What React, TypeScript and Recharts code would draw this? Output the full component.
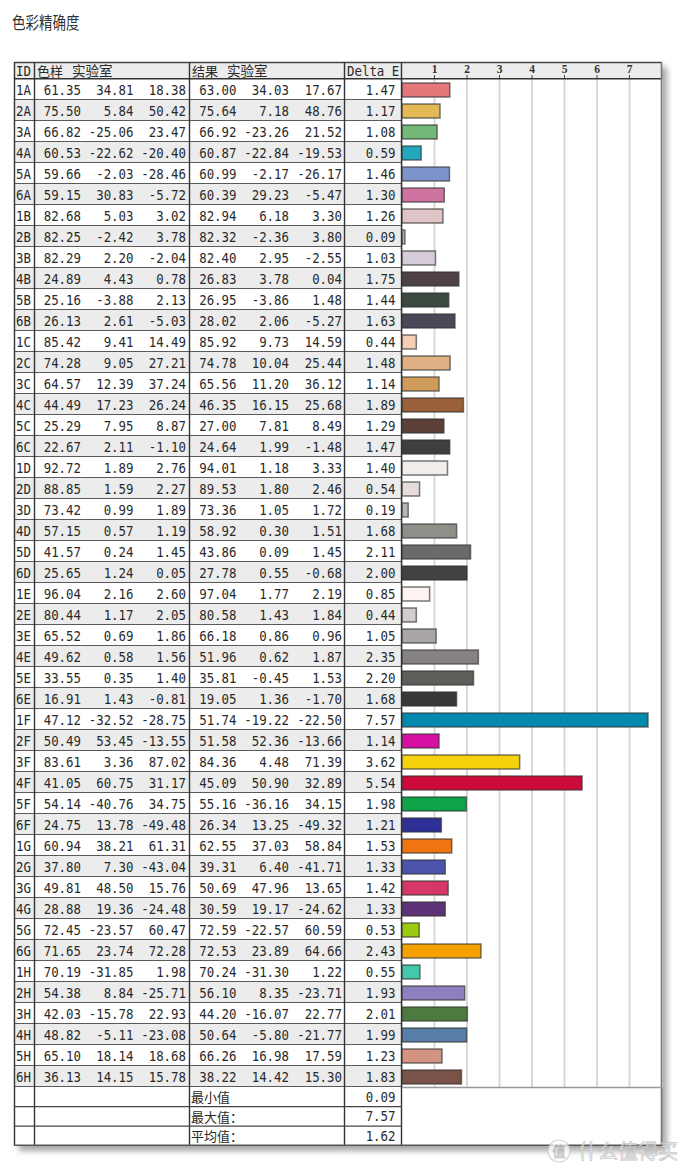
import React from 'react';
import { BarChart, Bar, XAxis, YAxis, CartesianGrid, Cell } from 'recharts';

const ids = ['1A','2A','3A','4A','5A','6A','1B','2B','3B','4B','5B','6B','1C','2C','3C','4C','5C','6C','1D','2D','3D','4D','5D','6D','1E','2E','3E','4E','5E','6E','1F','2F','3F','4F','5F','6F','1G','2G','3G','4G','5G','6G','1H','2H','3H','4H','5H','6H'];

const refL = [61.35,75.50,66.82,60.53,59.66,59.15,82.68,82.25,82.29,24.89,25.16,26.13,85.42,74.28,64.57,44.49,25.29,22.67,92.72,88.85,73.42,57.15,41.57,25.65,96.04,80.44,65.52,49.62,33.55,16.91,47.12,50.49,83.61,41.05,54.14,24.75,60.94,37.80,49.81,28.88,72.45,71.65,70.19,54.38,42.03,48.82,65.10,36.13];
const refA = [34.81,5.84,-25.06,-22.62,-2.03,30.83,5.03,-2.42,2.20,4.43,-3.88,2.61,9.41,9.05,12.39,17.23,7.95,2.11,1.89,1.59,0.99,0.57,0.24,1.24,2.16,1.17,0.69,0.58,0.35,1.43,-32.52,53.45,3.36,60.75,-40.76,13.78,38.21,7.30,48.50,19.36,-23.57,23.74,-31.85,8.84,-15.78,-5.11,18.14,14.15];
const refB = [18.38,50.42,23.47,-20.40,-28.46,-5.72,3.02,3.78,-2.04,0.78,2.13,-5.03,14.49,27.21,37.24,26.24,8.87,-1.10,2.76,2.27,1.89,1.19,1.45,0.05,2.60,2.05,1.86,1.56,1.40,-0.81,-28.75,-13.55,87.02,31.17,34.75,-49.48,61.31,-43.04,15.76,-24.48,60.47,72.28,1.98,-25.71,22.93,-23.08,18.68,15.78];
const resL = [63.00,75.64,66.92,60.87,60.99,60.39,82.94,82.32,82.40,26.83,26.95,28.02,85.92,74.78,65.56,46.35,27.00,24.64,94.01,89.53,73.36,58.92,43.86,27.78,97.04,80.58,66.18,51.96,35.81,19.05,51.74,51.58,84.36,45.09,55.16,26.34,62.55,39.31,50.69,30.59,72.59,72.53,70.24,56.10,44.20,50.64,66.26,38.22];
const resA = [34.03,7.18,-23.26,-22.84,-2.17,29.23,6.18,-2.36,2.95,3.78,-3.86,2.06,9.73,10.04,11.20,16.15,7.81,1.99,1.18,1.80,1.05,0.30,0.09,0.55,1.77,1.43,0.86,0.62,-0.45,1.36,-19.22,52.36,4.48,50.90,-36.16,13.25,37.03,6.40,47.96,19.17,-22.57,23.89,-31.30,8.35,-16.07,-5.80,16.98,14.42];
const resB = [17.67,48.76,21.52,-19.53,-26.17,-5.47,3.30,3.80,-2.55,0.04,1.48,-5.27,14.59,25.44,36.12,25.68,8.49,-1.48,3.33,2.46,1.72,1.51,1.45,-0.68,2.19,1.84,0.96,1.87,1.53,-1.70,-22.50,-13.66,71.39,32.89,34.15,-49.32,58.84,-41.71,13.65,-24.62,60.59,64.66,1.22,-23.71,22.77,-21.77,17.59,15.30];
const deltaE = [1.47,1.17,1.08,0.59,1.46,1.30,1.26,0.09,1.03,1.75,1.44,1.63,0.44,1.48,1.14,1.89,1.29,1.47,1.40,0.54,0.19,1.68,2.11,2.00,0.85,0.44,1.05,2.35,2.20,1.68,7.57,1.14,3.62,5.54,1.98,1.21,1.53,1.33,1.42,1.33,0.53,2.43,0.55,1.93,2.01,1.99,1.23,1.83];

const xTicks = [1, 2, 3, 4, 5, 6, 7];
const summaryLabels = ['最小值', '最大值：', '平均值：'];
const summaryValues = [0.09, 7.57, 1.62];

const swatches = ['#e4777a','#e3b955','#74b877','#22a7be','#7c93cb','#cf73a0','#dfc5c5','#b0b0a8','#d6cbd8','#4d4147','#3b4940','#4a4859','#f6cdb5','#dfb184','#cf9c59','#99603a','#5b4037','#3f3d40','#f1ede8','#e6dcdc','#b6b6b2','#8f8f8a','#6a6a68','#424242','#fdf3f1','#d3cccc','#aaa6a6','#858281','#5f5e5a','#38373a','#0289ad','#d80fa3','#f5d20b','#cc0b3b','#0ea548','#2f2f98','#ee7511','#4b54ac','#d53868','#5e3276','#9bcb10','#f5a100','#42c9ac','#8e7fbf','#4d7a3e','#577ea8','#d39484','#7a5247'];

const data = ids.map((id, i) => ({ id, de: deltaE[i] }));

const W = 680;
const H = 1168;
const TL = 14;
const TR = 662;
const HT = 62;
const HB = 79;
const ROW_H = 21;
const DATA_B = HB + ROW_H * ids.length;
const FOOT_H = 19.6;
const TB = DATA_B + FOOT_H * 3;
const COL_X = [34, 189, 344, 402];
const COL_RIGHT = [81, 133.5, 186, 236.5, 289, 342];
const DE_RIGHT = 395.5;
const MONO = '"DejaVu Sans Mono", "Liberation Mono", monospace';
const CJK = '"Noto Sans CJK SC", "Noto Sans", sans-serif';
const TXT = '#2a2a2a';
const NUM_FS = 13.8;
const NUM_SX = 0.9;

const fmt = (v: number) => v.toFixed(2);

const Num = ({ x, y, s, anchor }: { x: number; y: number; s: string; anchor?: string }) => (
  <text
    transform={`translate(${x},${y}) scale(${NUM_SX},1)`}
    textAnchor={anchor || 'start'}
    fontFamily={MONO}
    fontSize={NUM_FS}
    fill={TXT}
  >
    {s}
  </text>
);

const RowTick = (props: any) => {
  const { y, payload } = props;
  const i = ids.indexOf(payload.value);
  if (i < 0) return null;
  const top = y - ROW_H / 2;
  const vals = [refL[i], refA[i], refB[i], resL[i], resA[i], resB[i]];
  const base = y + 5;
  return (
    <g>
      <rect x={TL} y={top} width={COL_X[3] - TL} height={ROW_H} fill={i % 2 === 1 ? '#ececec' : '#ffffff'} />
      <line x1={TL} x2={COL_X[3]} y1={top + ROW_H - 0.5} y2={top + ROW_H - 0.5} stroke="#5a5a5a" strokeWidth={1.2} />
      <Num x={16} y={base} s={ids[i]} />
      {vals.map((v, k) => (
        <Num key={k} x={COL_RIGHT[k]} y={base} s={fmt(v)} anchor="end" />
      ))}
      <Num x={DE_RIGHT} y={base} s={fmt(deltaE[i])} anchor="end" />
    </g>
  );
};

const HeadTick = (props: any) => {
  const { x, payload } = props;
  return (
    <text x={x} y={73} textAnchor="middle" fontFamily='"Liberation Serif", serif' fontWeight="bold" fontSize={11.5} fill="#333">{payload.value}</text>
  );
};

export default function App() {
  const vLines = [TL + 0.5, COL_X[0] + 0.5, COL_X[1] + 0.5, COL_X[2] + 0.5, COL_X[3] - 0.5];
  return (
    <div style={{ position: 'absolute', left: 0, top: 0, width: W, height: H, background: '#fff', overflow: 'hidden' }}>
      <div style={{ position: 'absolute', left: TL, top: HT, width: TR - TL, height: TB - HT, background: '#fff', boxShadow: '5px 5px 6px rgba(0,0,0,0.35)' }} />
      <svg style={{ position: 'absolute', left: 0, top: 0 }} width={W} height={H}>
        <rect x={TL} y={HT} width={TR - TL} height={HB - HT} fill="#ececec" />
        <text transform="translate(12,29) scale(0.82,1)" fontFamily={CJK} fontSize={16.5} fill="#333">色彩精确度</text>
      </svg>
      <div style={{ position: 'absolute', left: 0, top: 0 }}>
        <BarChart
          width={W}
          height={H}
          data={data}
          layout="vertical"
          margin={{ top: HT, left: TL, right: W - TR, bottom: H - DATA_B }}
          barSize={14}
        >
          <CartesianGrid vertical horizontal={false} stroke="#d9d9d9" strokeWidth={2} />
          <XAxis
            type="number"
            orientation="top"
            domain={[0, 8]}
            ticks={xTicks}
            height={HB - HT}
            tick={<HeadTick />}
            tickSize={4}
            tickLine={{ stroke: '#444' }}
            axisLine={false}
            interval={0}
          />
          <YAxis
            type="category"
            dataKey="id"
            width={COL_X[3] - TL}
            tick={<RowTick />}
            tickLine={false}
            axisLine={false}
            interval={0}
          />
          <Bar dataKey="de" isAnimationActive={false} stroke="#333" strokeOpacity={0.65} strokeWidth={1.5}>
            {data.map((d, i) => (
              <Cell key={d.id} fill={swatches[i]} />
            ))}
          </Bar>
        </BarChart>
      </div>
      <svg style={{ position: 'absolute', left: 0, top: 0, pointerEvents: 'none' }} width={W} height={H}>
        <line x1={TL} x2={TR} y1={HT + 0.5} y2={HT + 0.5} stroke="#444" strokeWidth={1.3} />
        <line x1={TL} x2={TR} y1={HB - 0.2} y2={HB - 0.2} stroke="#333" strokeWidth={1.5} />
        {vLines.map((x, k) => (
          <line key={k} x1={x} x2={x} y1={HT} y2={TB} stroke="#333" strokeWidth={1.4} />
        ))}
        <line x1={TR - 0.5} x2={TR - 0.5} y1={HT} y2={TB} stroke="#777" strokeWidth={1.6} />
        <line x1={COL_X[3]} x2={TR} y1={DATA_B + 0.5} y2={DATA_B + 0.5} stroke="#999" strokeWidth={1.6} />
        <line x1={TL} x2={TR} y1={TB - 0.5} y2={TB - 0.5} stroke="#555" strokeWidth={1.4} />
        {summaryLabels.map((lab, k) => {
          const top = DATA_B + FOOT_H * k;
          return (
            <g key={k}>
              {k < 2 && <line x1={TL} x2={COL_X[3]} y1={top + FOOT_H} y2={top + FOOT_H} stroke="#444" strokeWidth={1.2} />}
              <text x={191} y={top + 15} fontFamily={CJK} fontSize={13} fill={TXT}>{lab}</text>
              <Num x={DE_RIGHT} y={top + 14.5} s={fmt(summaryValues[k])} anchor="end" />
            </g>
          );
        })}
        <Num x={16} y={76} s="ID" />
        <text x={37} y={76} fontFamily={CJK} fontSize={13} fill={TXT}>色样</text>
        <text x={72} y={76} fontFamily={CJK} fontSize={13.5} fill={TXT}>实验室</text>
        <text x={192} y={76} fontFamily={CJK} fontSize={13} fill={TXT}>结果</text>
        <text x={227} y={76} fontFamily={CJK} fontSize={13.5} fill={TXT}>实验室</text>
        <Num x={347} y={76} s="Delta E" />
        <g opacity={0.75}>
          <circle cx={559} cy={1151} r={11} fill="#fff" stroke="#c8c8c8" strokeWidth={1.2} />
          <text x={559} y={1156} textAnchor="middle" fontFamily={CJK} fontSize={13} fill="#fff" stroke="#b8b8b8" strokeWidth={0.8}>值</text>
          <text x={578} y={1159} fontFamily={CJK} fontSize={20} fill="#fff" stroke="#b8b8b8" strokeWidth={0.8}>什么值得买</text>
        </g>
      </svg>
    </div>
  );
}
